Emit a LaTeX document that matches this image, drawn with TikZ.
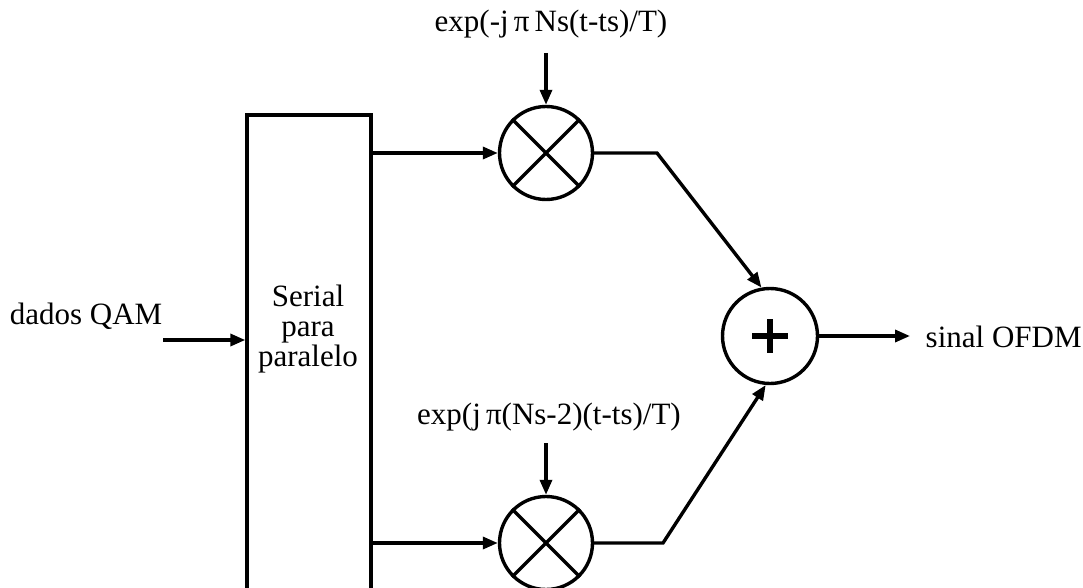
\documentclass[tikz,border=0pt]{standalone}
\usepackage{fontspec}
\setmainfont{Liberation Serif}
\usetikzlibrary{arrows.meta,calc}
\begin{document}
\begin{tikzpicture}[x=1pt,y=-1pt,
  line width=3.4pt,
  lbl/.style={font=\fontsize{31}{30}\selectfont, inner sep=0pt},
  arr/.style={-{Triangle[length=15pt,width=12pt]}},
  circ/.style={circle, draw, minimum size=93pt, inner sep=0pt},
  blk/.style={draw, minimum width=124pt, minimum height=520pt, inner sep=0pt}]
\useasboundingbox (0,0) rectangle (1083,588);
\clip (0,0) rectangle (1083,588);
\fill[white] (0,0) rectangle (1083,588);
% serial to parallel block
\node[blk] (sp) at (309,375) {};
\node[lbl, align=center] (sptext) at (308,329) {Serial\\para\\paralelo};
% multipliers
\node[circ] (m1) at (546,153) {};
\node[circ] (m2) at (546,543) {};
\draw (m1.45) -- (m1.225) (m1.135) -- (m1.315);
\draw (m2.45) -- (m2.225) (m2.135) -- (m2.315);
% summer
\node[circ, minimum size=95pt] (sum) at (770,336) {};
\draw[line width=6pt] ($(sum.center)+(-18,0)$) -- ($(sum.center)+(18,0)$);
\draw[line width=6pt] ($(sum.center)+(0,-17)$) -- ($(sum.center)+(0,17)$);
% labels
\node[lbl] (l1) at (551,24) {exp(-j\,π\,Ns(t-ts)/T)};
\coordinate (a1) at (546,53);
\draw[arr] (a1) -- (m1.north);
\node[lbl] (l2) at (549,417) {exp(j\,π(Ns-2)(t-ts)/T)};
\coordinate (a2) at (546,443);
\draw[arr] (a2) -- (m2.north);
% input
\node[lbl, anchor=base east] (in) at (164,324) {dados QAM};
\coordinate (inS) at (163,340);
\draw[arr] (inS) -- (inS -| sp.west);
% branches
\draw[arr] (m1 -| sp.east) -- (m1.west);
\draw[arr] (m2 -| sp.east) -- (m2.west);
\coordinate (k1) at (657,153);
\coordinate (k2) at (663,543);
\draw[arr] (m1.east) -- (k1) -- (sum.100);
\draw[arr] (m2.east) -- (k2) -- (sum.-95);
% output
\coordinate (outE) at (910,336);
\draw[arr] (sum.east) -- (outE);
\node[lbl, anchor=west] (out) at (924,337) {sinal OFDM};
\end{tikzpicture}
\end{document}
